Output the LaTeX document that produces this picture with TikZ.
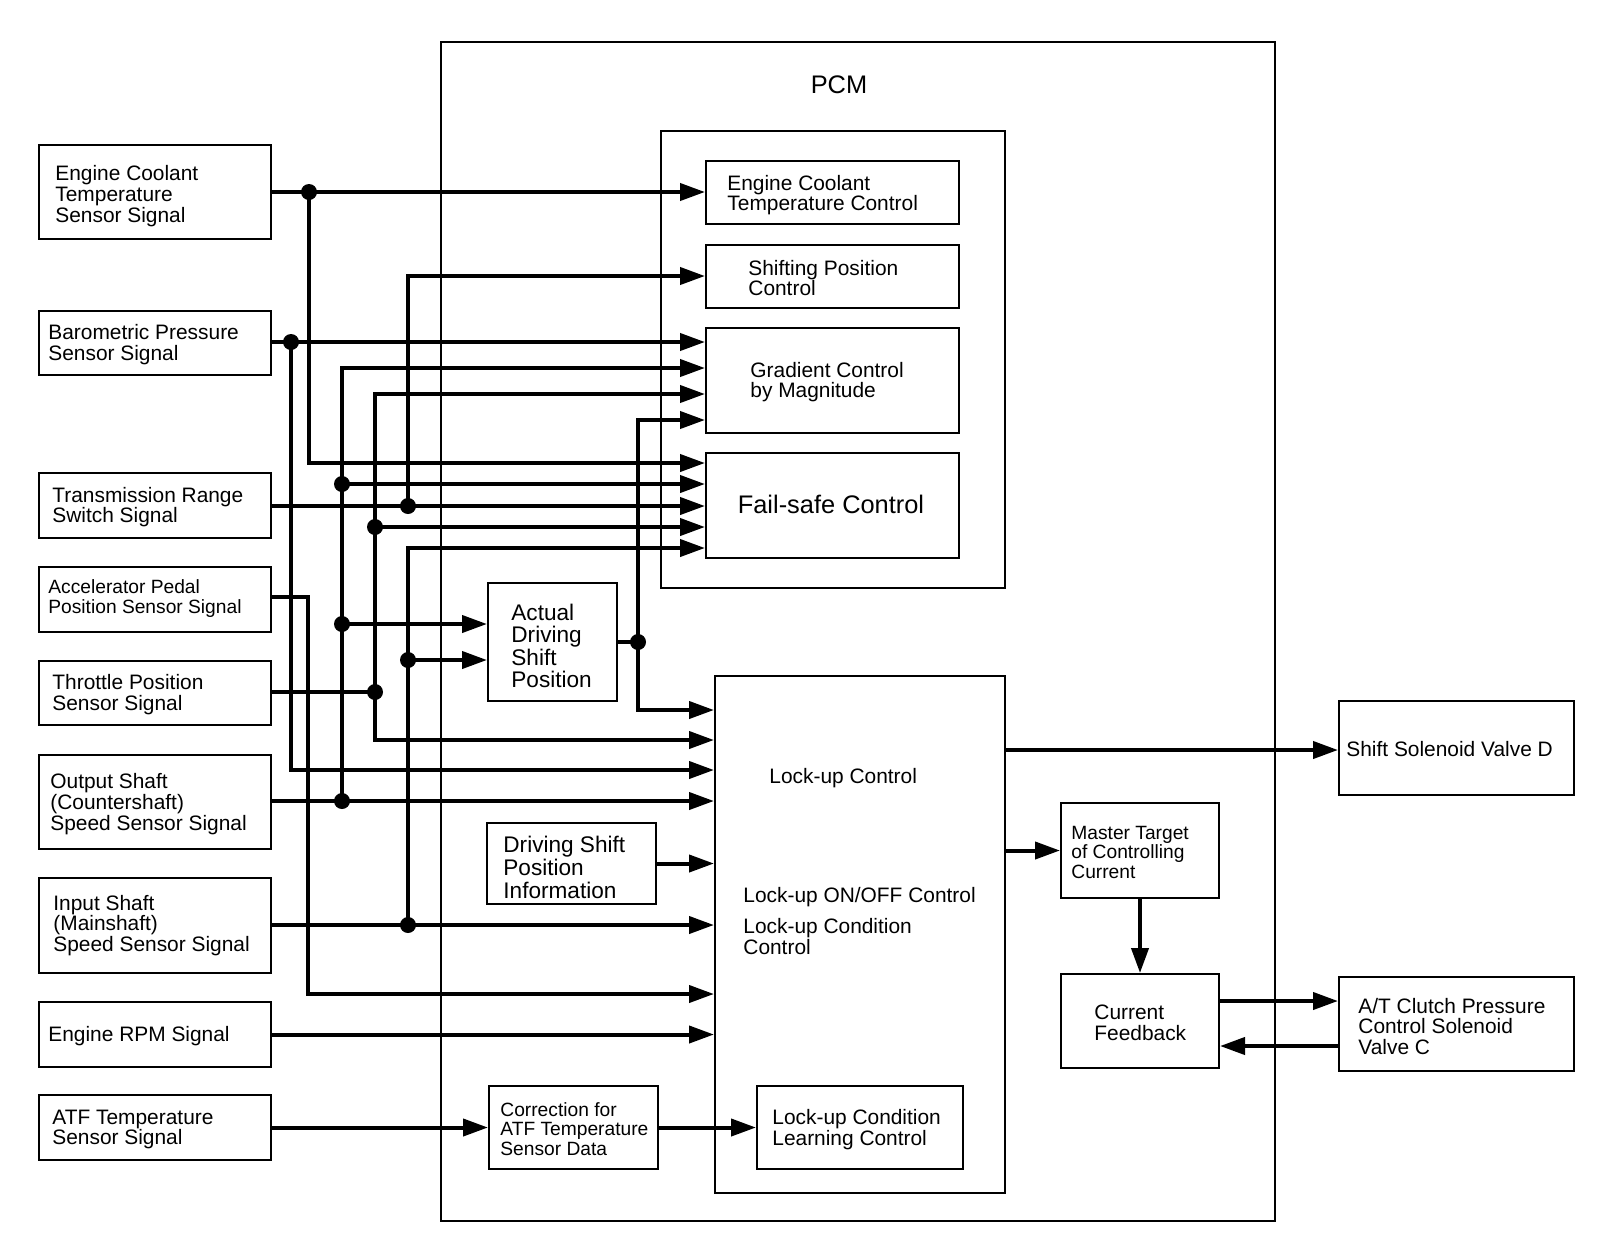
\documentclass[tikz,border=0pt]{standalone}
\usepackage{fontspec}
\setmainfont{Liberation Sans}
\usetikzlibrary{arrows.meta}
\newcommand\ftA{\fontsize{10.45}{10.4}\selectfont}
\newcommand\ftS{\fontsize{9.6}{9.75}\selectfont}
\newcommand\ftM{\fontsize{11.3}{11.3}\selectfont}
\newcommand\ftL{\fontsize{12.7}{12.7}\selectfont}
\newcommand\pbox[5]{\node[bx, minimum width={(#4-#2)*0.5pt}, minimum height={(#5-#3)*0.5pt}] (#1) at ({(#2+#4)/2},{(#3+#5)/2}) {};}
\begin{document}
\begin{tikzpicture}[x=0.5pt,y=-0.5pt,
  bx/.style={draw, line width=1pt, inner sep=0pt, rectangle},
  txt/.style={anchor=west, align=left, inner sep=0pt, font=\ftA, yshift=-1pt},
  sig/.style={line width=2pt, -{Triangle[length=12.5pt,width=8.5pt]}},
  sigl/.style={line width=2pt},
  jdot/.style={circle, fill, inner sep=0pt, minimum size=8pt}]
\fill[white] (0,0) rectangle (1600,1238);
\useasboundingbox (0,0) rectangle (1600,1238);
% boxes
\pbox{pcm}{441}{42}{1275}{1221}
\pbox{inner}{661}{131}{1005}{588}
\pbox{ecs}{39}{145}{271}{239}
\pbox{bps}{39}{311}{271}{375}
\pbox{trs}{39}{473}{271}{538}
\pbox{aps}{39}{567}{271}{632}
\pbox{tps}{39}{661}{271}{725}
\pbox{oss}{39}{755}{271}{849}
\pbox{iss}{39}{878}{271}{973}
\pbox{rpm}{39}{1002}{271}{1067}
\pbox{atf}{39}{1095}{271}{1160}
\pbox{ectc}{706}{161}{959}{224}
\pbox{spc}{706}{245}{959}{308}
\pbox{gcm}{706}{328}{959}{433}
\pbox{fsc}{706}{453}{959}{558}
\pbox{adsp}{488}{583}{617}{701}
\pbox{luc}{715}{676}{1005}{1193}
\pbox{dspi}{487}{823}{656}{904}
\pbox{cor}{489}{1086}{658}{1169}
\pbox{lcl}{757}{1086}{963}{1169}
\pbox{ssd}{1339}{701}{1574}{795}
\pbox{mtc}{1061}{803}{1219}{898}
\pbox{cfb}{1061}{974}{1219}{1068}
\pbox{atc}{1339}{977}{1574}{1071}
% texts
\node[font=\ftL, inner sep=0pt] (t-pcm) at (839,85) {PCM};
\node[txt] (t-ecs) at (55,194) {Engine Coolant\\Temperature\\Sensor Signal};
\node[txt] (t-bps) at (48,342.5) {Barometric Pressure\\Sensor Signal};
\node[txt] (t-trs) at (52,505) {Transmission Range\\Switch Signal};
\node[txt, font=\ftS] (t-aps) at (48,596.5) {Accelerator Pedal\\Position Sensor Signal};
\node[txt] (t-tps) at (52,692.5) {Throttle Position\\Sensor Signal};
\node[txt] (t-oss) at (50,802) {Output Shaft\\(Countershaft)\\Speed Sensor Signal};
\node[txt] (t-iss) at (53,923.5) {Input Shaft\\(Mainshaft)\\Speed Sensor Signal};
\node[txt] (t-rpm) at (48,1034) {Engine RPM Signal};
\node[txt] (t-atf) at (52,1127.5) {ATF Temperature\\Sensor Signal};
\node[txt] (t-ectc) at (727,193) {Engine Coolant\\Temperature Control};
\node[txt] (t-spc) at (748,276) {Shifting Position\\Control};
\node[txt] (t-gcm) at (750,380) {Gradient Control\\by Magnitude};
\node[font=\ftL, inner sep=0pt] (t-fsc) at (831,504) {Fail-safe Control};
\node[txt, font=\ftM] (t-adsp) at (511,644) {Actual\\Driving\\Shift\\Position};
\node[txt] (t-luc1) at (769,776) {Lock-up Control};
\node[txt] (t-luc2) at (743,895) {Lock-up ON/OFF Control};
\node[txt] (t-luc3) at (743,934.5) {Lock-up Condition\\Control};
\node[txt, font=\ftM] (t-dspi) at (503,865.5) {Driving Shift\\Position\\Information};
\node[txt, font=\ftS] (t-cor) at (500,1127) {Correction for\\ATF Temperature\\Sensor Data};
\node[txt] (t-lcl) at (772,1127.5) {Lock-up Condition\\Learning Control};
\node[txt] (t-ssd) at (1346,747) {Shift Solenoid Valve D};
\node[txt, font=\ftS] (t-mtc) at (1071,850) {Master Target\\of Controlling\\Current};
\node[txt] (t-cfb) at (1094,1021) {Current\\Feedback};
\node[txt] (t-atc) at (1358,1024.5) {A/T Clutch Pressure\\Control Solenoid\\Valve C};
% junction and corner coordinates
\coordinate (j1) at (309,192);
\coordinate (j2) at (291,342);
\coordinate (j3a) at (342,484);
\coordinate (j3b) at (342,624);
\coordinate (j3c) at (342,801);
\coordinate (j4a) at (375,527);
\coordinate (j4b) at (375,692);
\coordinate (j5a) at (408,506);
\coordinate (j5b) at (408,660);
\coordinate (j5c) at (408,925);
\coordinate (j6) at (638,642);
\coordinate (c1) at (309,463);
\coordinate (c2) at (291,770);
\coordinate (c3) at (342,368);
\coordinate (c4t) at (375,394);
\coordinate (c4b) at (375,740);
\coordinate (c5t) at (408,276);
\coordinate (c5b) at (408,548);
\coordinate (c6t) at (638,420);
\coordinate (c6b) at (638,710);
\coordinate (c7) at (308,597);
\coordinate (c7b) at (308,994);
\coordinate (p0) at (1005,750);
\coordinate (p1) at (1219,1001);
\coordinate (p2) at (1219,1046);
% connectors
\draw[sig] (ecs.east |- j1) -- (ectc.west |- j1);
\draw[sig] (j1) |- (fsc.west |- c1);
\draw[sig] (j5a) |- (spc.west |- c5t);
\draw[sig] (bps.east |- j2) -- (gcm.west |- j2);
\draw[sig] (j2) |- (luc.west |- c2);
\draw[sig] (j3c) |- (gcm.west |- c3);
\draw[sig] (j3a) -- (fsc.west |- j3a);
\draw[sig] (j3b) -- (adsp.west |- j3b);
\draw[sig] (oss.east |- j3c) -- (luc.west |- j3c);
\draw[sig] (j4b) |- (gcm.west |- c4t);
\draw[sig] (j4b) |- (luc.west |- c4b);
\draw[sig] (j4a) -- (fsc.west |- j4a);
\draw[sigl] (tps.east |- j4b) -- (j4b);
\draw[sig] (trs.east |- j5a) -- (fsc.west |- j5a);
\draw[sig] (j5c) |- (fsc.west |- c5b);
\draw[sig] (j5b) -- (adsp.west |- j5b);
\draw[sig] (iss.east |- j5c) -- (luc.west |- j5c);
\draw[sigl] (adsp.east |- j6) -- (j6);
\draw[sig] (j6) |- (gcm.west |- c6t);
\draw[sig] (j6) |- (luc.west |- c6b);
\draw[sig] (aps.east |- c7) -- (c7) -- (c7b) -- (luc.west |- c7b);
\draw[sig] (dspi.east) -- (luc.west |- dspi.east);
\draw[sig] (rpm.east) -- (luc.west |- rpm.east);
\draw[sig] (atf.east) -- (cor.west |- atf.east);
\draw[sig] (cor.east) -- (lcl.west);
\draw[sig] (luc.east |- p0) -- (ssd.west |- p0);
\draw[sig] (luc.east |- mtc.west) -- (mtc.west);
\draw[sig] (mtc.south) -- (cfb.north);
\draw[sig] (cfb.east |- p1) -- (atc.west |- p1);
\draw[sig] (atc.west |- p2) -- (cfb.east |- p2);
% dots
\foreach \j in {j1,j2,j3a,j3b,j3c,j4a,j4b,j5a,j5b,j5c,j6}
  \node[jdot] (d-\j) at (\j) {};
\end{tikzpicture}
\end{document}
